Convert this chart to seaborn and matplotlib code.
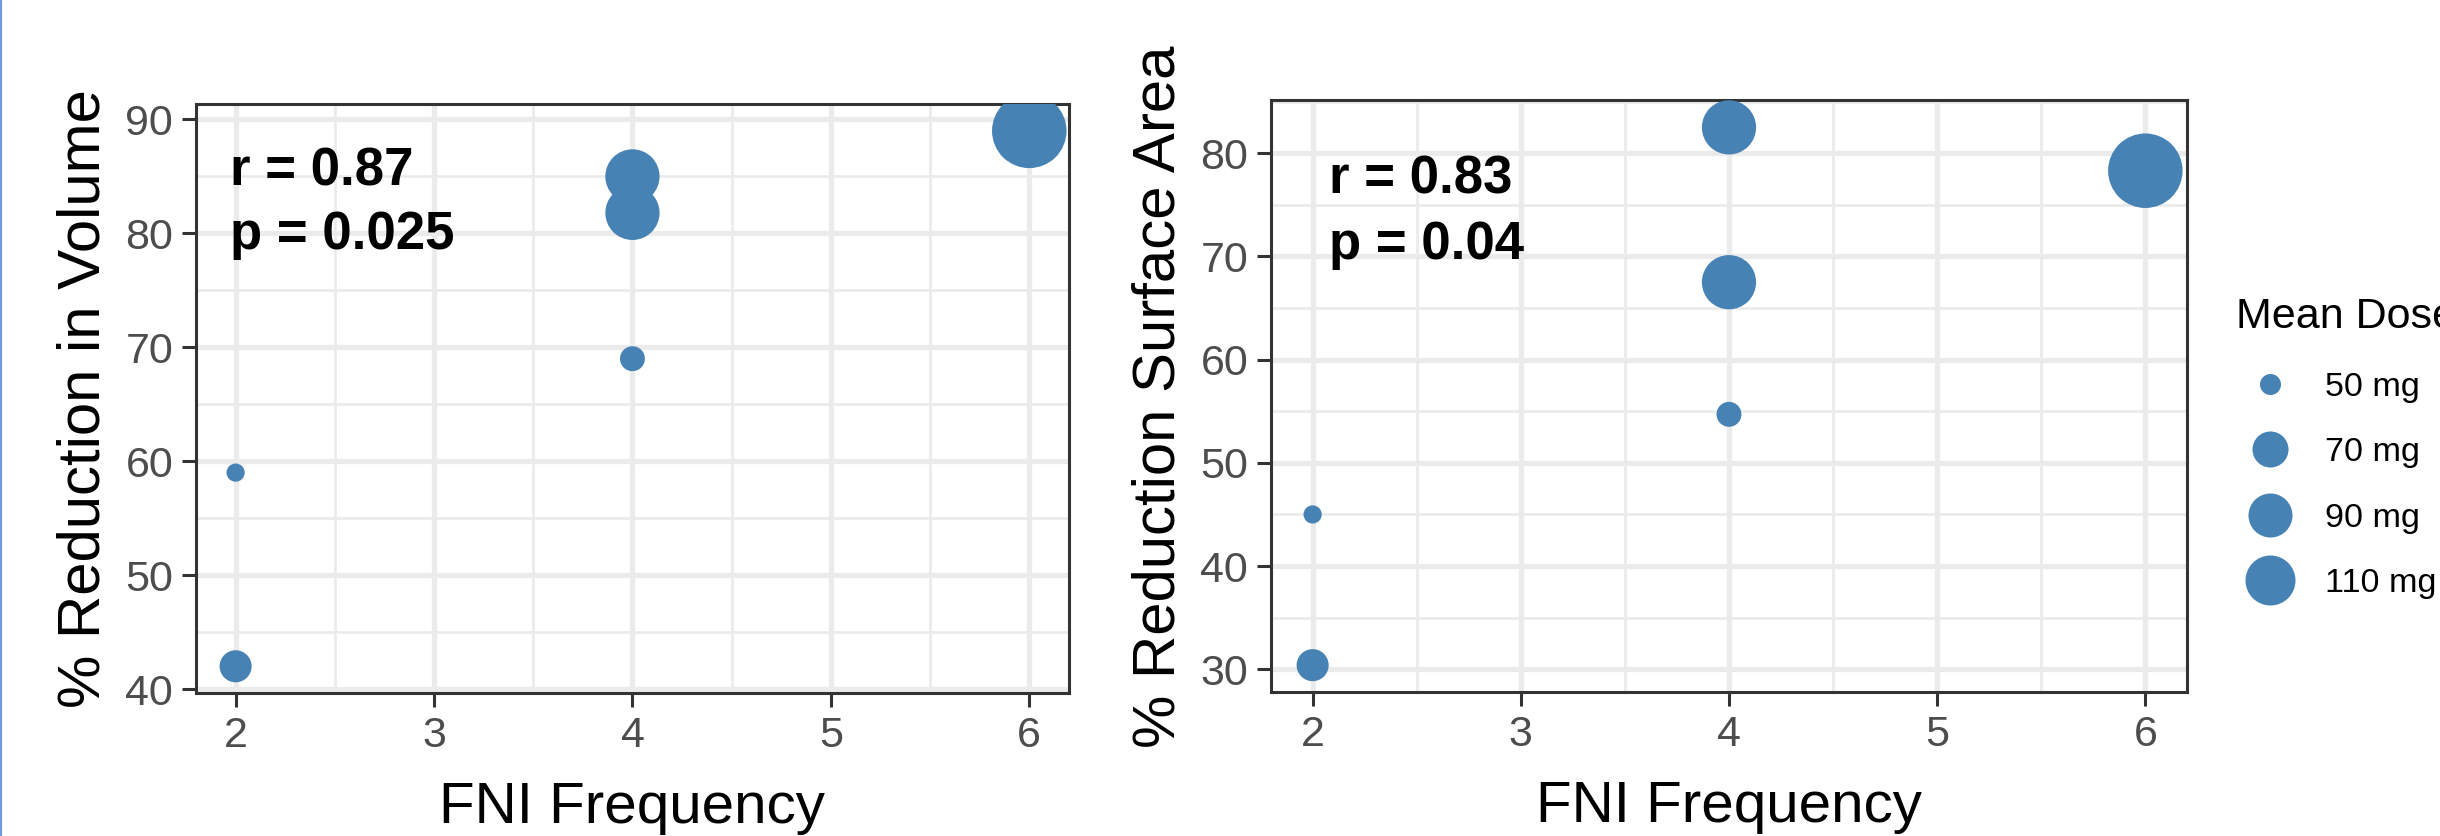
import matplotlib
matplotlib.use('Agg')
import matplotlib.pyplot as plt
from matplotlib.lines import Line2D
from matplotlib.ticker import MultipleLocator
import pandas as pd
import seaborn as sns


# FNI frequency vs % reduction, one row per patient
fni_freq = [2, 2, 4, 4, 4, 6]
red_volume = [59, 42, 69, 85, 81.8, 89]
red_surface = [45, 30.4, 54.7, 82.5, 67.5, 78.3]
mean_dose = [50, 62, 55, 95, 95, 140]

stats_volume = ['r = 0.87', 'p = 0.025']
stats_surface = ['r = 0.83', 'p = 0.04']

legend_doses = [50, 70, 90, 110]
legend_labels = ['50 mg', '70 mg', '90 mg', '110 mg']

df = pd.DataFrame({'FNI Frequency': fni_freq,
                   'Volume': red_volume,
                   'Surface': red_surface,
                   'Dose': mean_dose})

DPI = 200
PT = 72 / DPI   # points per pixel
steel = '#4682B4'

sns.set_theme(style='white')
plt.rcParams['font.family'] = ['Liberation Sans', 'DejaVu Sans']

fig = plt.figure(figsize=(2440 / DPI, 836 / DPI), dpi=DPI)
ax1 = fig.add_axes([0.0803, 0.171, 0.3578, 0.7045])
ax2 = fig.add_axes([0.5209, 0.1722, 0.3754, 0.7076])

# marker areas (pt^2) from the smallest / largest bubble diameters in px
size_range = ((18.2 * PT) ** 2, (74.5 * PT) ** 2)


def expand(vals, frac=0.05):
    lo, hi = min(vals), max(vals)
    pad = (hi - lo) * frac
    return lo - pad, hi + pad


def style_axes(ax, ylabel, yvals, ystep):
    ax.set_xlim(expand(fni_freq))
    ax.set_ylim(expand(yvals))
    ax.xaxis.set_major_locator(MultipleLocator(1))
    ax.xaxis.set_minor_locator(MultipleLocator(0.5))
    ax.yaxis.set_major_locator(MultipleLocator(ystep))
    ax.yaxis.set_minor_locator(MultipleLocator(ystep / 2))
    ax.grid(which='major', color='#EBEBEB', linewidth=1.9)
    ax.grid(which='minor', color='#EBEBEB', linewidth=1.0)
    ax.set_axisbelow(True)
    for sp in ax.spines.values():
        sp.set_visible(True)
        sp.set_color('#333333')
        sp.set_linewidth(1.1)
    ax.tick_params(which='major', length=5.2, width=1.1, color='#333333',
                   labelsize=15.5, labelcolor='#4D4D4D', pad=3,
                   bottom=True, left=True)
    ax.tick_params(which='minor', length=0)
    ax.set_xlabel('FNI Frequency', fontsize=21, color='black', labelpad=9)
    ax.set_ylabel(ylabel, fontsize=21.6, color='black', labelpad=5)


sns.scatterplot(data=df, x='FNI Frequency', y='Volume', size='Dose',
                sizes=size_range, size_norm=(50, 140), color=steel,
                linewidth=0, alpha=1, legend=False, ax=ax1, zorder=3)
style_axes(ax1, '% Reduction in Volume', red_volume, 10)

sns.scatterplot(data=df, x='FNI Frequency', y='Surface', size='Dose',
                sizes=size_range, size_norm=(50, 140), color=steel,
                linewidth=0, alpha=1, legend=False, ax=ax2, zorder=3)
style_axes(ax2, '% Reduction Surface Area', red_surface, 10)

# correlation labels
txt = dict(fontsize=19, fontweight='bold', va='baseline', color='black')
ax1.text(1.97, 84.2, stats_volume[0], **txt)
ax1.text(1.97, 78.6, stats_volume[1], **txt)
ax2.text(2.08, 76.05, stats_surface[0], **txt)
ax2.text(2.08, 69.75, stats_surface[1], **txt)

# dose legend
legend_px = [21, 36, 44, 50]
handles = [Line2D([], [], marker='o', linestyle='', color=steel,
                  markeredgewidth=0, markersize=d * PT) for d in legend_px]
leg = fig.legend(handles, legend_labels, title='Mean Dose', loc='upper left',
                 bbox_to_anchor=(2236 / 2440, 1 - 297 / 836), frameon=False,
                 fontsize=12.3, title_fontsize=15.5, alignment='left',
                 handlelength=2, handletextpad=0.61, labelspacing=1.01,
                 borderpad=0, borderaxespad=0)
leg.get_title().set_color('black')
for t in leg.get_texts():
    t.set_color('black')

# thin blue edge on the left of the original image
fig.add_artist(Line2D([0.0004, 0.0004], [0, 1], color='#6C9BE8', linewidth=0.8,
                      transform=fig.transFigure))

fig.savefig('out.png', dpi=DPI, facecolor='white')
